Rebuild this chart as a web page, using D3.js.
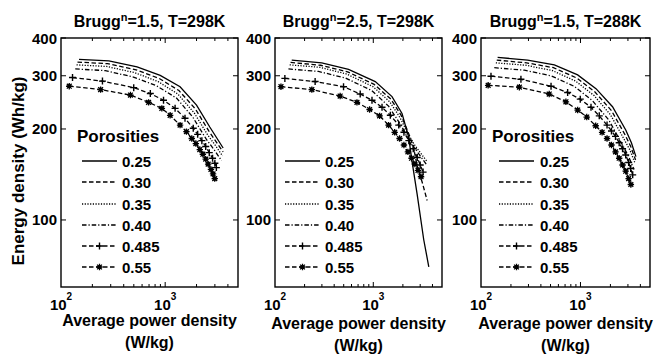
<!DOCTYPE html>
<html><head><meta charset="utf-8">
<script src="https://cdn.jsdelivr.net/npm/d3@7"></script>
<style>
body{margin:0;background:#fff}
text{font-family:"Liberation Sans",Arial,Helvetica,sans-serif;font-weight:bold;fill:#000}
</style>
</head><body>
<svg id="c" width="656" height="357"></svg>
<script>
// ---------- DATA ----------
const porosities = ["0.25", "0.30", "0.35", "0.40", "0.485", "0.55"];
const panelBrugg = ["1.5", "2.5", "1.5"];
const panelTemp = ["298K", "298K", "288K"];
const yTickValues = [100, 200, 300, 400];
const xMajorTicks = [100, 1000];
const xTickExponents = ["2", "3"];
const xDomain = [100, 5000];
const yDomain = [60, 400];

// Panel 1: Brugg^n=1.5, T=298K  ([power W/kg, energy Wh/kg])
const p1_025 = [[149,340],[288,336],[537,321],[896,301],[1390,276],[2000,240],[2680,203],[3150,186],[3600,173]];
const p1_030 = [[144,333],[280,329],[525,314],[875,294],[1355,268],[1950,233],[2620,197],[3100,181],[3600,168]];
const p1_035 = [[141,326],[274,322],[512,307],[855,287],[1325,261],[1900,226],[2560,191],[3050,176],[3550,163]];
const p1_040 = [[137,316],[266,312],[496,297],[826,278],[1285,253],[1840,219],[2480,185],[2980,170],[3480,157]];
const p1_0485 = [[129,296],[250,288],[499,274],[720,262],[964,249],[1245,234],[1550,217],[1860,201],[2050,192],[2250,183],[2450,175],[2650,167],[2850,160],[3000,154],[3100,149]];
const p1_055 = [[120,277],[240,270],[464,259],[693,245],[929,234],[1116,222],[1390,206],[1600,196],[1800,186],[1970,179],[2150,171],[2300,165],[2450,159],[2585,153],[2750,147],[2880,142],[2990,137]];

// Panel 2: Brugg^n=2.5, T=298K
const p2_025 = [[148,338],[299,331],[560,315],[1047,287],[1550,256],[1960,225],[2290,188],[2480,156],[2790,122],[3260,86],[3670,70]];
const p2_030 = [[144,332],[292,325],[548,309],[1020,281],[1510,251],[1920,222],[2250,196],[2550,176],[2780,152],[3150,133],[3530,116]];
const p2_035 = [[141,326],[285,320],[535,304],[995,276],[1470,246],[1870,218],[2220,195],[2600,178],[3050,166],[3530,156]];
const p2_040 = [[137,316],[277,310],[520,295],[965,268],[1430,238],[1820,211],[2180,191],[2600,174],[3000,163],[3450,153]];
const p2_0485 = [[126,294],[256,287],[498,276],[736,261],[970,249],[1227,236],[1490,222],[1815,206],[2050,195],[2300,183],[2550,172],[2800,161],[3000,152],[3210,144]];
const p2_055 = [[115,276],[237,270],[460,257],[682,245],[917,232],[1160,221],[1430,206],[1650,195],[1850,186],[2050,177],[2250,168],[2450,160],[2650,153],[2850,146],[3060,139]];

// Panel 3: Brugg^n=1.5, T=288K
const p3_025 = [[147,345],[294,338],[546,326],[937,302],[1432,272],[2100,237],[2860,198],[3250,180],[3610,162]];
const p3_030 = [[144,338],[288,331],[535,319],[915,295],[1400,265],[2050,230],[2790,192],[3200,175],[3580,158]];
const p3_035 = [[141,331],[282,325],[523,312],[895,288],[1370,258],[2000,223],[2720,186],[3150,170],[3540,154]];
const p3_040 = [[136,319],[272,313],[505,300],[862,277],[1320,248],[1930,214],[2620,178],[3050,162],[3450,147]];
const p3_0485 = [[126,299],[252,292],[506,277],[743,264],[995,251],[1276,236],[1545,221],[1850,206],[2050,197],[2250,189],[2450,180],[2650,172],[2850,164],[3050,155],[3200,148],[3350,141]];
const p3_055 = [[118,279],[243,275],[485,261],[714,246],[937,231],[1156,219],[1422,205],[1650,195],[1850,186],[2050,177],[2250,168],[2450,160],[2650,152],[2850,145],[3050,137],[3210,131]];

const panelSeries = [
  [p1_025, p1_030, p1_035, p1_040, p1_0485, p1_055],
  [p2_025, p2_030, p2_035, p2_040, p2_0485, p2_055],
  [p3_025, p3_030, p3_035, p3_040, p3_0485, p3_055]
];

// ---------- LAYOUT / STYLE ----------
const svg = d3.select("#c");
const plotTop = 38, plotBottom = 287;
const panels = [
  {left: 61, right: 238, legLine: 82, legText: 122, legTitle: 77, showTitle: true, xl1: 326, xl2: 348},
  {left: 275, right: 442, legLine: 285, legText: 325, legTitle: 0, showTitle: false, xl1: 329, xl2: 351},
  {left: 481, right: 650, legLine: 499, legText: 540, legTitle: 492, showTitle: true, xl1: 329, xl2: 351}
];
const dashes = ["", "4.5,2.5", "1.2,1.5", "4.5,2,1.2,2", "4.5,2.5", "4.5,2.5"];
const markers = [null, null, null, null, "plus", "star"];
const legendRows = [161, 182, 204, 225, 246, 267];

function drawMarker(g, type, x, y) {
  if (type === "plus") {
    g.append("path").attr("d", `M${x-3.5},${y}H${x+3.5}M${x},${y-3.5}V${y+3.5}`)
      .attr("stroke", "#000").attr("stroke-width", 1.4).attr("fill", "none");
  } else if (type === "star") {
    const r = 3.2, d = r * 0.75;
    g.append("path").attr("d", `M${x-r},${y}H${x+r}M${x},${y-r}V${y+r}M${x-d},${y-d}L${x+d},${y+d}M${x-d},${y+d}L${x+d},${y-d}`)
      .attr("stroke", "#000").attr("stroke-width", 1.3).attr("fill", "none");
    g.append("circle").attr("cx", x).attr("cy", y).attr("r", 2).attr("fill", "#000");
  }
}

const yScale = d3.scaleLog().domain(yDomain).range([plotBottom, plotTop]);

panels.forEach((p, pi) => {
  const xScale = d3.scaleLog().domain(xDomain).range([p.left, p.right]);
  const g = svg.append("g");

  const line = d3.line().x(d => xScale(d[0])).y(d => yScale(d[1]));
  panelSeries[pi].forEach((s, si) => {
    g.append("path").datum(s).attr("d", line)
      .attr("fill", "none").attr("stroke", "#000").attr("stroke-width", 1.3)
      .attr("stroke-dasharray", dashes[si] || null);
    if (markers[si]) s.forEach(d => drawMarker(g, markers[si], xScale(d[0]), yScale(d[1])));
  });

  g.append("rect").attr("x", p.left).attr("y", plotTop)
    .attr("width", p.right - p.left).attr("height", plotBottom - plotTop)
    .attr("fill", "none").attr("stroke", "#000").attr("stroke-width", 1.4);

  yTickValues.forEach(v => {
    const yy = yScale(v);
    g.append("line").attr("x1", p.left).attr("x2", p.left + 5).attr("y1", yy).attr("y2", yy).attr("stroke", "#000").attr("stroke-width", 1);
    g.append("line").attr("x1", p.right - 5).attr("x2", p.right).attr("y1", yy).attr("y2", yy).attr("stroke", "#000").attr("stroke-width", 1);
    g.append("text").attr("x", p.left - 4).attr("y", yy + 5.5).attr("text-anchor", "end")
      .attr("font-size", 15).text(v);
  });

  xScale.ticks().forEach(v => {
    const xx = xScale(v);
    if (xx <= p.left + 0.5 || xx >= p.right - 0.5) return;
    const major = xMajorTicks.includes(v);
    const len = major ? 5 : 3;
    g.append("line").attr("x1", xx).attr("x2", xx).attr("y1", plotBottom).attr("y2", plotBottom - len).attr("stroke", "#000").attr("stroke-width", 1);
    g.append("line").attr("x1", xx).attr("x2", xx).attr("y1", plotTop).attr("y2", plotTop + len).attr("stroke", "#000").attr("stroke-width", 1);
  });
  xMajorTicks.forEach((v, i) => {
    const t = g.append("text").attr("x", xScale(v)).attr("y", 310).attr("text-anchor", "middle").attr("font-size", 15);
    t.append("tspan").text("10");
    t.append("tspan").attr("dy", -10).attr("font-size", 10).text(xTickExponents[i]);
  });

  const cx = (p.left + p.right) / 2;
  const tt = g.append("text").attr("x", cx).attr("y", 27).attr("text-anchor", "middle").attr("font-size", 16);
  tt.append("tspan").text("Brugg");
  tt.append("tspan").attr("dy", -6).attr("font-size", 11).text("n");
  tt.append("tspan").attr("dy", 6).text("=" + panelBrugg[pi] + ", T=" + panelTemp[pi]);

  g.append("text").attr("x", cx).attr("y", p.xl1).attr("text-anchor", "middle").attr("font-size", 16).text("Average power density");
  g.append("text").attr("x", cx).attr("y", p.xl2).attr("text-anchor", "middle").attr("font-size", 16).text("(W/kg)");

  if (p.showTitle) {
    g.append("text").attr("x", p.legTitle).attr("y", 142).attr("font-size", 17).text("Porosities");
  }
  porosities.forEach((lab, si) => {
    const ly = legendRows[si];
    g.append("line").attr("x1", p.legLine).attr("x2", p.legLine + 35).attr("y1", ly).attr("y2", ly)
      .attr("stroke", "#000").attr("stroke-width", 1.3).attr("stroke-dasharray", dashes[si] || null);
    if (markers[si]) drawMarker(g, markers[si], p.legLine + 17.5, ly);
    g.append("text").attr("x", p.legText).attr("y", ly + 5.5).attr("font-size", 15).text(lab);
  });
});

svg.append("text").attr("transform", "translate(24,171) rotate(-90)")
  .attr("text-anchor", "middle").attr("font-size", 17).text("Energy density (Wh/kg)");
</script>
</body></html>
